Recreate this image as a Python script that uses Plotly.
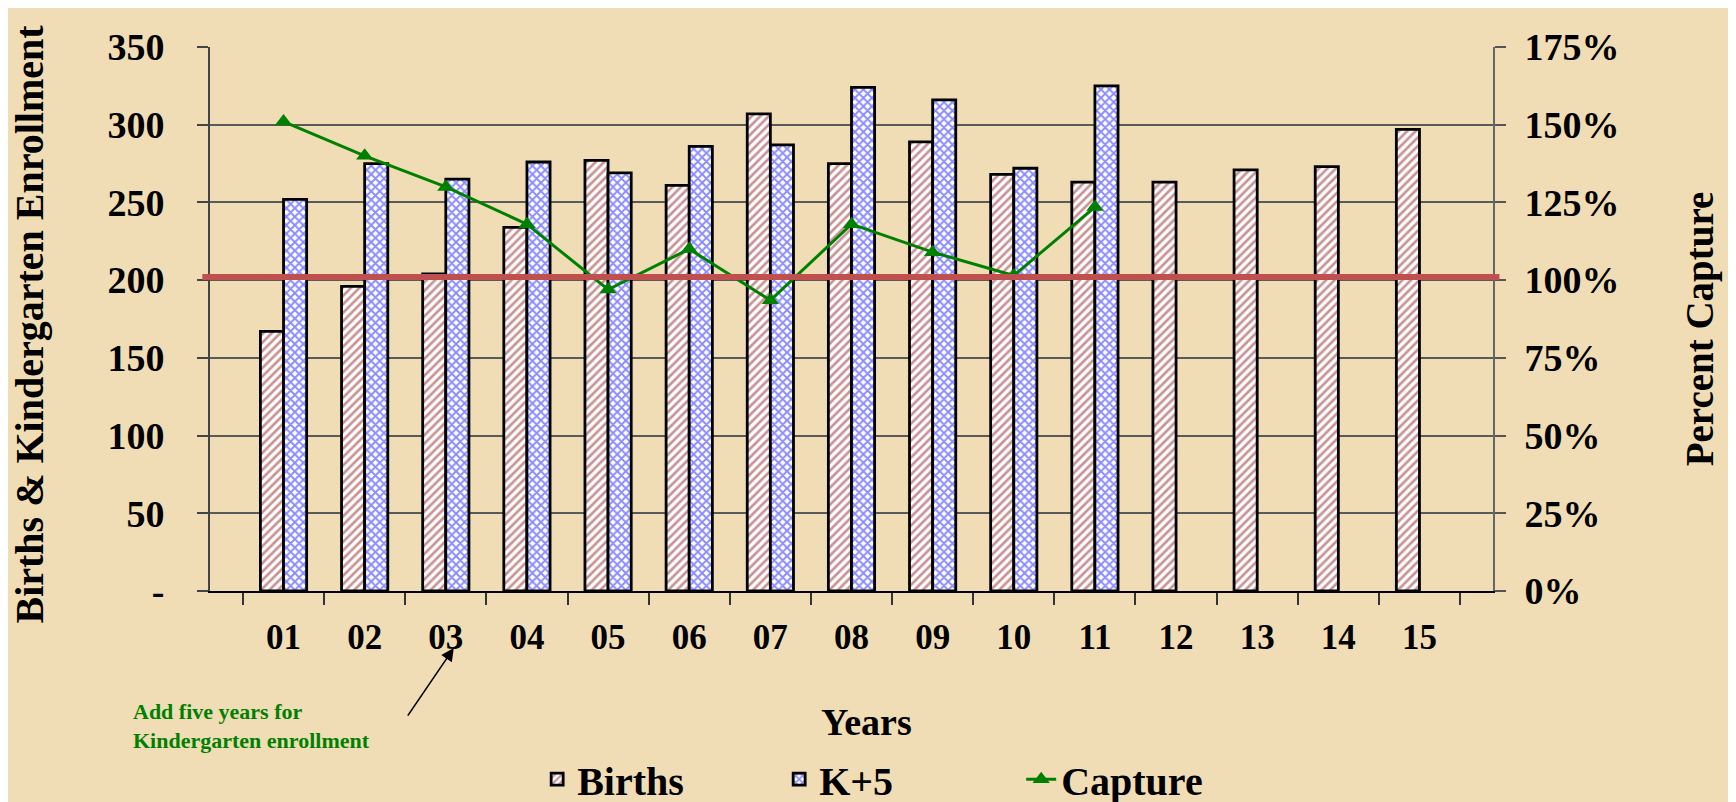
import plotly.graph_objects as go

# Data
years = ["01", "02", "03", "04", "05", "06", "07", "08", "09", "10",
         "11", "12", "13", "14", "15"]
births = [167, 196, 204, 234, 277, 261, 307, 275, 289, 268, 263, 263, 271, 273, 297]
k_plus_5 = [252, 275, 265, 276, 269, 286, 287, 324, 316, 272, 325,
            None, None, None, None]
capture = [1.51, 1.40, 1.30, 1.18, 0.97, 1.10, 0.935, 1.18, 1.09, 1.015, 1.235,
           None, None, None, None]
capture_target = 1.01

left_ticks = [0, 50, 100, 150, 200, 250, 300, 350]
left_ticktext = ["-", "50", "100", "150", "200", "250", "300", "350"]

FONT = "Liberation Serif"
BG = "#F0DDB5"


def main():
    fig = go.Figure()

    fig.add_trace(go.Bar(
        x=years, y=births, name="Births",
        marker=dict(
            color="white",
            line=dict(color="black", width=2.8),
            pattern=dict(shape="/", fgcolor="#94272A", bgcolor="white",
                         size=6, solidity=0.45),
        ),
    ))
    fig.add_trace(go.Bar(
        x=years, y=k_plus_5, name="K+5",
        marker=dict(
            color="white",
            line=dict(color="black", width=2.8),
            pattern=dict(shape="x", fgcolor="#1818FF", bgcolor="white",
                         size=6, solidity=0.55),
        ),
    ))
    fig.add_trace(go.Scatter(
        x=years, y=capture, name="Capture", yaxis="y2",
        mode="lines+markers",
        line=dict(color="#008000", width=3),
        marker=dict(symbol="triangle-up", size=15, color="#008000"),
    ))

    # 100% capture reference line
    fig.add_shape(type="line", xref="paper", yref="y2",
                  x0=-0.006, x1=1.005, y0=capture_target, y1=capture_target,
                  line=dict(color="#C0504D", width=6))

    fig.update_layout(
        width=1736, height=802,
        margin=dict(l=202, r=251, t=39, b=219, autoexpand=False),
        paper_bgcolor=BG, plot_bgcolor=BG,
        font=dict(family=FONT, color="black"),
        barmode="group", bargap=0.43, bargroupgap=0,
        showlegend=True,
        legend=dict(orientation="h", x=0.255, y=-0.346,
                    xanchor="left", yanchor="middle",
                    entrywidth=197, entrywidthmode="pixels",
                    font=dict(size=40, family=FONT, weight="bold"),
                    bgcolor="rgba(0,0,0,0)"),
        xaxis=dict(
            type="category", tickson="boundaries",
            ticks="outside", ticklen=12, tickcolor="#333", tickwidth=1.5,
            showline=True, linecolor="black", linewidth=2,
            showgrid=False, automargin=False,
            tickfont=dict(size=35, family=FONT, weight="bold"),
            ticklabelstandoff=14,
        ),
        yaxis=dict(
            range=[0, 350], tickvals=left_ticks, ticktext=left_ticktext,
            ticks="outside", ticklen=11, tickcolor="#444", tickwidth=1.5,
            showline=True, linecolor="#444", linewidth=2,
            showgrid=True, gridcolor="#5A5A5A", gridwidth=1.5,
            zeroline=False, automargin=False,
            tickfont=dict(size=38, family=FONT, weight="bold"),
            ticklabelstandoff=25,
        ),
        yaxis2=dict(
            overlaying="y", side="right",
            range=[0, 1.75], dtick=0.25, tickformat=".0%",
            ticks="outside", ticklen=11, tickcolor="#555", tickwidth=1.5,
            showline=True, linecolor="#666", linewidth=2,
            showgrid=False, zeroline=False, automargin=False,
            tickfont=dict(size=38, family=FONT, weight="bold"),
            ticklabelstandoff=11,
        ),
        annotations=[
            dict(text="Births & Kindergarten Enrollment", textangle=-90,
                 xref="paper", yref="paper", x=-0.141, y=0.49,
                 showarrow=False, xanchor="center", yanchor="middle",
                 font=dict(size=40, family=FONT, weight="bold")),
            dict(text="Percent Capture", textangle=-90,
                 xref="paper", yref="paper", x=1.161, y=0.482,
                 showarrow=False, xanchor="center", yanchor="middle",
                 font=dict(size=39, family=FONT, weight="bold")),
            dict(text="Years", xref="paper", yref="paper", x=0.512, y=-0.241,
                 showarrow=False, xanchor="center", yanchor="middle",
                 font=dict(size=38, family=FONT, weight="bold")),
            dict(text="Add five years for<br>Kindergarten enrollment",
                 xref="paper", yref="paper", x=-0.0616, y=-0.248,
                 showarrow=False, xanchor="left", yanchor="middle", align="left",
                 font=dict(size=22, family=FONT, weight="bold", color="#008000")),
            dict(text="", xref="paper", yref="paper", x=0.190, y=-0.105,
                 showarrow=True, arrowhead=2, arrowsize=1.6, arrowwidth=1.6,
                 arrowcolor="black", ax=-47, ay=69),
        ],
    )

    fig.write_html("out.html")


if __name__ == "__main__":
    main()
